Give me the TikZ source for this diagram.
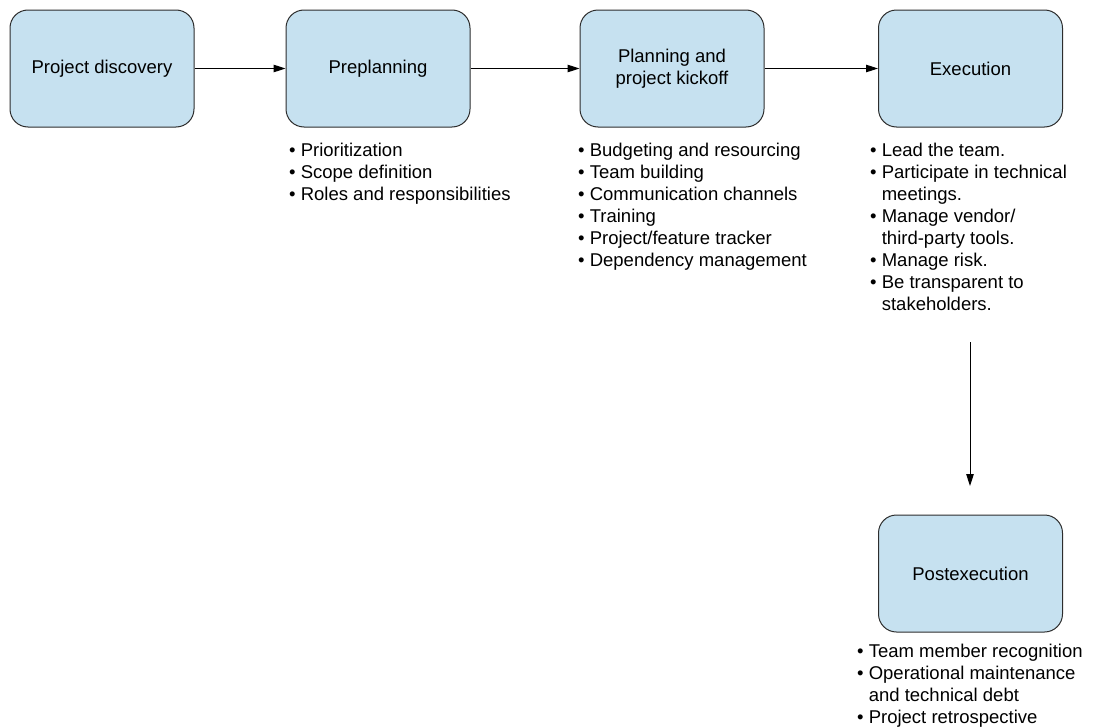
\documentclass[tikz,border=0pt]{standalone}
\usepackage{fontspec}
\setmainfont{Liberation Sans}
\usetikzlibrary{arrows.meta}
\definecolor{boxfill}{RGB}{198,225,240}
\definecolor{boxline}{RGB}{45,45,45}
\tikzset{
  phase/.style={draw=boxline, line width=1pt, fill=boxfill, rounded corners=18pt,
    minimum width=184pt, minimum height=117pt, inner sep=0pt, align=center,
    font=\fontsize{18.5}{22}\selectfont},
  items/.style={anchor=north west, inner sep=0pt, align=left,
    font=\fontsize{18.5}{22}\selectfont},
  flow/.style={draw=black, line width=1pt, -{Triangle[length=12pt,width=7.5pt]}}
}
\newcommand{\firstline}{\rule{0pt}{15pt}}
\newcommand{\cont}{\hphantom{• }}
\begin{document}
\begin{tikzpicture}[x=1pt,y=-1pt]
\useasboundingbox (0,0) rectangle (1093,728);

% phases
\node[phase] (disc) at (102,68.5) {Project discovery};
\node[phase] (pre)  at (378,68.5) {Preplanning};
\node[phase] (plan) at (672,68.5) {Planning and\\project kickoff};
\node[phase] (exec) at (970.5,68.5) {Execution};
\node[phase] (post) at (970.5,573.5) {Postexecution};

% activities under each phase
\node[items] (preitems) at (289,141) {\firstline• Prioritization\\
• Scope definition\\
• Roles and responsibilities};
\node[items] (planitems) at (578,141) {\firstline• Budgeting and resourcing\\
• Team building\\
• Communication channels\\
• Training\\
• Project/feature tracker\\
• Dependency management};
\node[items] (execitems) at (870,141) {\firstline• Lead the team.\\
• Participate in technical\\
\cont meetings.\\
• Manage vendor/\\
\cont third-party tools.\\
• Manage risk.\\
• Be transparent to\\
\cont stakeholders.};
\node[items] (postitems) at (857,642) {\firstline• Team member recognition\\
• Operational maintenance\\
\cont and technical debt\\
• Project retrospective};

% connectors
\draw[flow] (disc.east) -- (pre.west);
\draw[flow] (pre.east) -- (plan.west);
\draw[flow] (plan.east) -- (exec.west);
\coordinate (down1) at (970,342);
\coordinate (down2) at (970,486);
\draw[flow] (down1) -- (down2);
\end{tikzpicture}
\end{document}
